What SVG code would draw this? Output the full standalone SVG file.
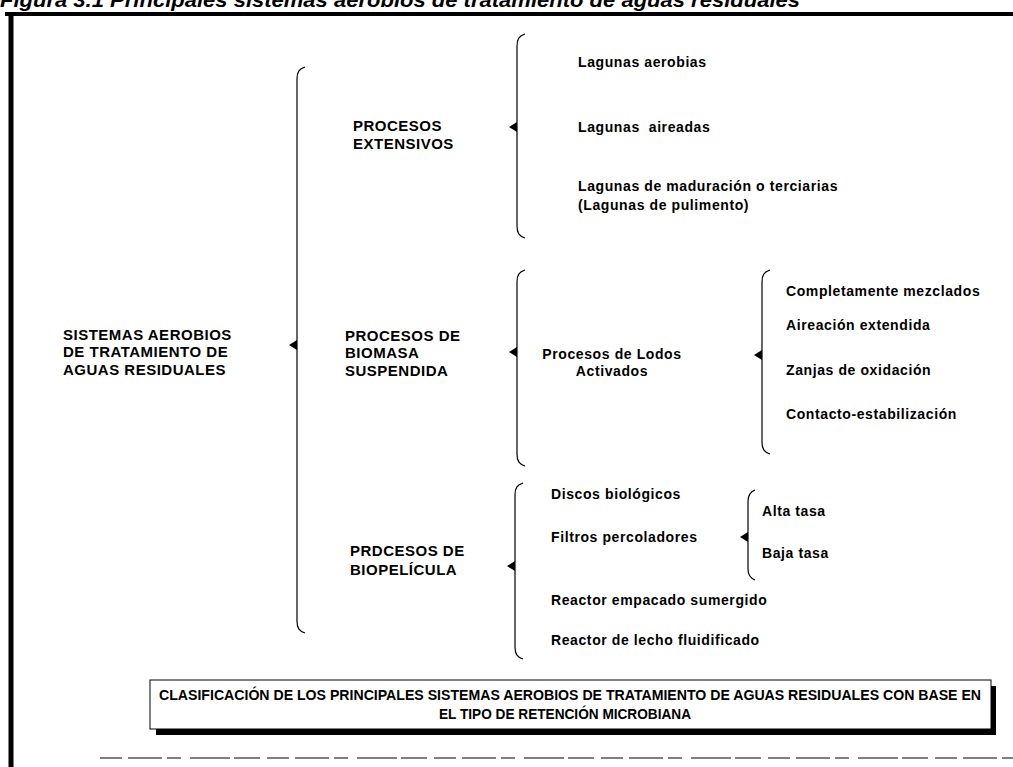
<svg xmlns="http://www.w3.org/2000/svg" width="1013" height="767" viewBox="0 0 1013 767">
  <style>
    text { font-family: "Liberation Sans", Arial, sans-serif; font-weight: bold; fill: #000; }
    .h { font-size: 15px; letter-spacing: 0.5px; }
    .t { font-size: 14px; letter-spacing: 0.6px; }
    .cap { font-size: 14.5px; }
    .title { font-size: 20px; font-style: italic; }
    .br { fill: none; stroke: #000; stroke-width: 1.2; }
    .frame { fill: none; stroke: #000; }
  </style>
  <defs>
    <!-- small pointer on the middle of each brace, tip pointing left -->
    <path id="tip" d="M0,0 L8,-5 L8,5 Z" fill="#000"/>
  </defs>

  <rect width="1013" height="767" fill="#fff"/>

  <!-- figure title, cut by the top edge of the page -->
  <text class="title" x="0" y="7" textLength="800" lengthAdjust="spacingAndGlyphs">Figura 3.1 Principales sistemas aerobios de tratamiento de aguas residuales</text>

  <!-- page frame -->
  <line class="frame" x1="5" y1="14" x2="1013" y2="14" stroke-width="4"/>
  <line class="frame" x1="11" y1="12" x2="11" y2="767" stroke-width="5"/>
  <line x1="100" y1="758" x2="1013" y2="758" stroke="#555" stroke-width="1.3" stroke-dasharray="22 6 34 5 14 9 40 4 26 7"/>

  <!-- braces joining each class to its members -->
  <g id="connectors">
    <path class="br" d="M305,67 C299,69 297,72 297,79 L297,621 C297,628 299,631 305,633"/>
    <use href="#tip" x="289" y="345"/>

    <path class="br" d="M525,34 C519,36 517,39 517,46 L517,226 C517,233 519,236 525,238"/>
    <use href="#tip" x="509" y="127"/>

    <path class="br" d="M525,270 C519,272 517,275 517,282 L517,454 C517,461 519,464 525,466"/>
    <use href="#tip" x="509" y="352"/>

    <path class="br" d="M770,270 C764,272 762,275 762,282 L762,442 C762,449 764,452 770,454"/>
    <use href="#tip" x="754" y="355"/>

    <path class="br" d="M523,483 C517,485 515,488 515,495 L515,647 C515,654 517,657 523,659"/>
    <use href="#tip" x="507" y="566"/>

    <path class="br" d="M755,490 C750,492 748,495 748,501 L748,569 C748,575 750,578 755,580"/>
    <use href="#tip" x="740" y="537"/>
  </g>

  <g id="sistemas-aerobios">
    <text class="h" x="63" y="340">SISTEMAS AEROBIOS</text>
    <text class="h" x="63" y="357">DE TRATAMIENTO DE</text>
    <text class="h" x="63" y="375">AGUAS RESIDUALES</text>
  </g>

  <g id="procesos-extensivos">
    <text class="h" x="353" y="131">PROCESOS</text>
    <text class="h" x="353" y="149">EXTENSIVOS</text>
  </g>
  <g id="lagunas-aerobias"><text class="t" x="578" y="67">Lagunas aerobias</text></g>
  <g id="lagunas-aireadas"><text class="t" x="578" y="132" xml:space="preserve">Lagunas  aireadas</text></g>
  <g id="lagunas-maduracion">
    <text class="t" x="578" y="191">Lagunas de maduración o terciarias</text>
    <text class="t" x="578" y="210">(Lagunas de pulimento)</text>
  </g>

  <g id="biomasa-suspendida">
    <text class="h" x="345" y="341">PROCESOS DE</text>
    <text class="h" x="345" y="358">BIOMASA</text>
    <text class="h" x="345" y="376">SUSPENDIDA</text>
  </g>
  <g id="lodos-activados">
    <text class="t" x="612" y="359" text-anchor="middle">Procesos de Lodos</text>
    <text class="t" x="612" y="376" text-anchor="middle">Activados</text>
  </g>
  <g id="completamente-mezclados"><text class="t" x="786" y="296">Completamente mezclados</text></g>
  <g id="aireacion-extendida"><text class="t" x="786" y="330">Aireación extendida</text></g>
  <g id="zanjas-oxidacion"><text class="t" x="786" y="375">Zanjas de oxidación</text></g>
  <g id="contacto-estabilizacion"><text class="t" x="786" y="419">Contacto-estabilización</text></g>

  <g id="biopelicula">
    <text class="h" x="350" y="556">PRDCESOS DE</text>
    <text class="h" x="350" y="575">BIOPELÍCULA</text>
  </g>
  <g id="discos-biologicos"><text class="t" x="551" y="499">Discos biológicos</text></g>
  <g id="filtros-percoladores"><text class="t" x="551" y="542">Filtros percoladores</text></g>
  <g id="alta-tasa"><text class="t" x="762" y="516">Alta tasa</text></g>
  <g id="baja-tasa"><text class="t" x="762" y="558">Baja tasa</text></g>
  <g id="reactor-empacado"><text class="t" x="551" y="605">Reactor empacado sumergido</text></g>
  <g id="reactor-lecho"><text class="t" x="551" y="645">Reactor de lecho fluidificado</text></g>

  <!-- caption box with drop shadow -->
  <g id="caption">
    <rect x="156" y="686" width="840" height="49" fill="#000"/>
    <rect x="150" y="680" width="841" height="49" fill="#fff" stroke="#000" stroke-width="1"/>
    <text class="cap" x="570" y="700" text-anchor="middle" textLength="822" lengthAdjust="spacingAndGlyphs">CLASIFICACIÓN DE LOS PRINCIPALES SISTEMAS AEROBIOS DE TRATAMIENTO DE AGUAS RESIDUALES CON BASE EN</text>
    <text class="cap" x="565" y="719" text-anchor="middle" textLength="252" lengthAdjust="spacingAndGlyphs">EL TIPO DE RETENCIÓN MICROBIANA</text>
  </g>
</svg>
